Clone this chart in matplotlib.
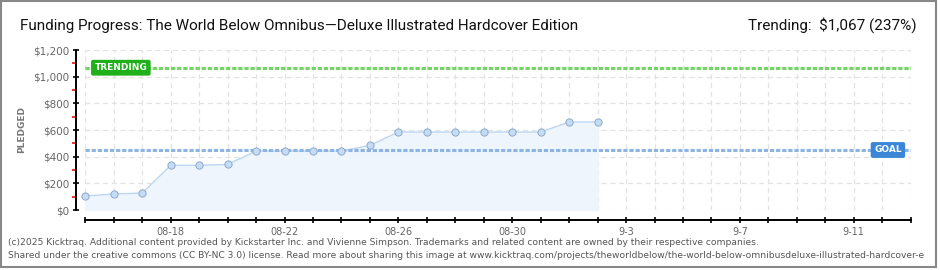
import matplotlib
matplotlib.use("Agg")
import matplotlib.pyplot as plt
from matplotlib.ticker import MultipleLocator
from matplotlib.patches import Rectangle
import datetime as dt

# ---- data ----
dates = ["2025-08-15", "2025-08-16", "2025-08-17", "2025-08-18", "2025-08-19",
         "2025-08-20", "2025-08-21", "2025-08-22", "2025-08-23", "2025-08-24",
         "2025-08-25", "2025-08-26", "2025-08-27", "2025-08-28", "2025-08-29",
         "2025-08-30", "2025-08-31", "2025-09-01", "2025-09-02"]
pledged = [105, 120, 127, 335, 335, 342, 442, 442, 442, 442,
           485, 585, 585, 585, 585, 585, 585, 660, 660]
goal = 450
trending = 1067
range_start = "2025-08-15"
range_end = "2025-09-13"
xtick_dates = ["2025-08-18", "2025-08-22", "2025-08-26", "2025-08-30",
               "2025-09-03", "2025-09-07", "2025-09-11"]
xtick_labels = ["08-18", "08-22", "08-26", "08-30", "9-3", "9-7", "9-11"]
ytick_values = [0, 200, 400, 600, 800, 1000, 1200]
ytick_labels = ["$0", "$200", "$400", "$600", "$800", "$1,000", "$1,200"]

title = "Funding Progress: The World Below Omnibus\u2014Deluxe Illustrated Hardcover Edition"
trend_text = "Trending:  $1,067 (237%)"
footer1 = ("(c)2025 Kicktraq. Additional content provided by Kickstarter Inc. and Vivienne Simpson. "
           "Trademarks and related content are owned by their respective companies.")
footer2 = ("Shared under the creative commons (CC BY-NC 3.0) license. Read more about sharing this image at "
           "www.kicktraq.com/projects/theworldbelow/the-world-below-omnibusdeluxe-illustrated-hardcover-e")

W, H = 940, 270
fig = plt.figure(figsize=(W / 100, H / 100), dpi=100)

def px(x0, y0, x1, y1):
    return [x0 / W, 1 - y1 / H, (x1 - x0) / W, (y1 - y0) / H]

ax = fig.add_axes(px(85.3, 50, 910.7, 210))

d = [dt.datetime.strptime(s, "%Y-%m-%d") for s in dates]
d0 = dt.datetime.strptime(range_start, "%Y-%m-%d")
d1 = dt.datetime.strptime(range_end, "%Y-%m-%d")
ax.set_xlim(d0, d1)
ax.set_ylim(0, 1200)

# ticks & grid
all_days = [d0 + dt.timedelta(days=i) for i in range((d1 - d0).days + 1)]
lab_map = {dt.datetime.strptime(s, "%Y-%m-%d"): l for s, l in zip(xtick_dates, xtick_labels)}
ax.set_xticks(all_days)
ax.set_xticklabels([lab_map.get(day, "") for day in all_days])
ax.set_yticks(ytick_values)
ax.set_yticklabels(ytick_labels)
ax.yaxis.set_minor_locator(MultipleLocator(100))
ax.grid(True, which="major", color="#e2e2e2", linestyle=(0, (4, 3)), linewidth=0.9)
ax.set_axisbelow(True)

# spines
for s in ["top", "right"]:
    ax.spines[s].set_visible(False)
ax.spines["left"].set_position(("outward", 9.3 * 72 / 100))
ax.spines["bottom"].set_position(("outward", 10 * 72 / 100))
ax.spines["left"].set_linewidth(1.4)
ax.spines["bottom"].set_linewidth(1.4)
ax.tick_params(axis="y", which="major", direction="inout", length=4, width=1.2,
               colors="black", labelcolor="#666666", labelsize=7.5, pad=3)
ax.tick_params(axis="y", which="minor", direction="out", length=3, width=1.2, colors="#ee1111")
ax.tick_params(axis="x", which="major", direction="inout", length=4.5, width=1.2,
               colors="black", labelcolor="#666666", labelsize=7, pad=2.5)

# data
ax.fill_between(d, pledged, 0, color="#eef5fd", zorder=2)
ax.plot(d, pledged, color="#bcd7f3", linewidth=1.0, zorder=3)
ax.plot(d, pledged, linestyle="none", marker="o", markersize=5.2,
        markerfacecolor="#c4dcf6", markeredgecolor="#8ea9c9", markeredgewidth=0.7,
        zorder=4, clip_on=False)

# trending / goal lines
ax.axhline(trending, color="#74d466", linewidth=2.2, linestyle=(0, (1.4, 0.6)), zorder=3)
ax.axhline(goal, color="#8db5e2", linewidth=2.2, linestyle=(0, (1.4, 0.6)), zorder=3)

ax.annotate("TRENDING", xy=(d0, trending), xytext=(25.6, 0), textcoords="offset points",
            ha="center", va="center", color="white", fontsize=6.5, fontweight="bold",
            family="DejaVu Sans",
            bbox=dict(boxstyle="round,pad=0.3,rounding_size=0.15", fc="#1fb01a", ec="#1fb01a"),
            zorder=6)
ax.annotate("GOAL", xy=(d1, goal), xytext=(-16.4, 0), textcoords="offset points",
            ha="center", va="center", color="white", fontsize=6.5, fontweight="bold",
            family="DejaVu Sans",
            bbox=dict(boxstyle="round,pad=0.3,rounding_size=0.15", fc="#3b86d6", ec="#3b86d6"),
            zorder=6)

# texts
fig.text(20 / W, 1 - 30 / H, title, fontsize=11, color="#111111", fontweight="normal",
         family=["Roboto", "DejaVu Sans"], va="baseline", ha="left")
fig.text(917 / W, 1 - 30 / H, trend_text, fontsize=11, color="#111111", fontweight="normal",
         family=["Roboto", "DejaVu Sans"], va="baseline", ha="right")
fig.text(22 / W, 1 - 130 / H, "PLEDGED", rotation=90, fontsize=6.5, fontweight="bold",
         color="#777777", va="center", ha="center")
fig.text(8 / W, 1 - 242.5 / H, footer1, fontsize=6.6, color="#555555", va="center", ha="left")
fig.text(8 / W, 1 - 255 / H, footer2, fontsize=6.6, color="#555555", va="center", ha="left")

# frame
fig.patches.append(Rectangle((1 / W, 3 / H), 935 / W, 266 / H, transform=fig.transFigure,
                             fill=False, edgecolor="#888888", linewidth=1.5))

fig.savefig("out.png", dpi=100)
